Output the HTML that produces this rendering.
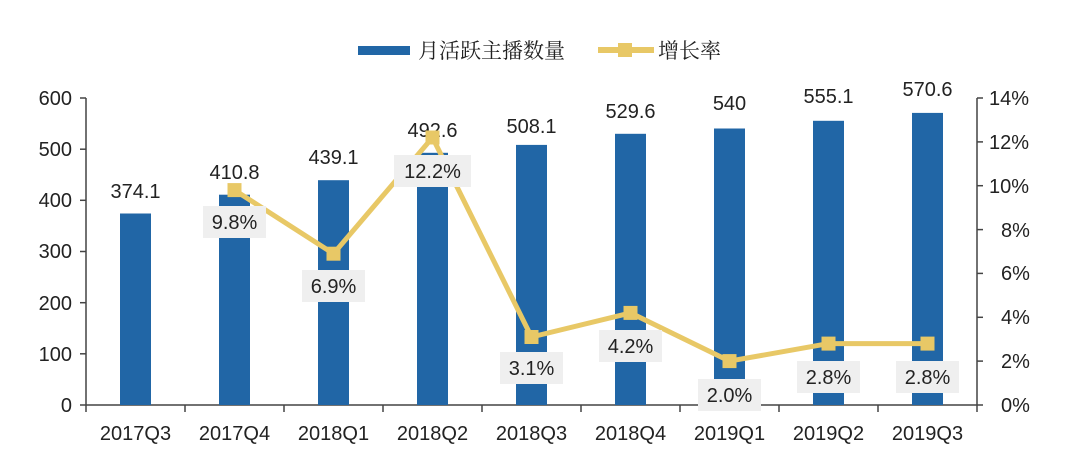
<!DOCTYPE html>
<html><head><meta charset="utf-8"><style>
body{margin:0;background:#fff;}
svg{display:block;font-family:"Liberation Sans","Noto Sans CJK SC",sans-serif;}
</style></head><body>
<svg width="1080" height="461" viewBox="0 0 1080 461">
<rect x="358" y="46" width="52" height="9" fill="#2166a6"/>
<text x="418" y="58" font-size="21" font-family="'Noto Serif CJK SC','Noto Sans CJK SC',serif" fill="#222">月活跃主播数量</text>
<line x1="598" y1="50" x2="654" y2="50" stroke="#e8c866" stroke-width="6"/>
<rect x="618" y="43" width="14" height="14" fill="#e8c866"/>
<text x="658" y="58" font-size="21" font-family="'Noto Serif CJK SC','Noto Sans CJK SC',serif" fill="#222">增长率</text>
<g stroke="#444" stroke-width="1.5" fill="none">
<line x1="86" y1="98" x2="86" y2="405"/>
<line x1="977" y1="98" x2="977" y2="405"/>
<line x1="86" y1="405" x2="977" y2="405"/>
<line x1="80" y1="98" x2="86" y2="98"/><line x1="80" y1="149.2" x2="86" y2="149.2"/><line x1="80" y1="200.3" x2="86" y2="200.3"/><line x1="80" y1="251.5" x2="86" y2="251.5"/><line x1="80" y1="302.7" x2="86" y2="302.7"/><line x1="80" y1="353.8" x2="86" y2="353.8"/><line x1="80" y1="405" x2="86" y2="405"/>
<line x1="977" y1="98" x2="983" y2="98"/><line x1="977" y1="141.9" x2="983" y2="141.9"/><line x1="977" y1="185.7" x2="983" y2="185.7"/><line x1="977" y1="229.6" x2="983" y2="229.6"/><line x1="977" y1="273.4" x2="983" y2="273.4"/><line x1="977" y1="317.3" x2="983" y2="317.3"/><line x1="977" y1="361.1" x2="983" y2="361.1"/><line x1="977" y1="405" x2="983" y2="405"/>
<line x1="86" y1="405" x2="86" y2="412"/><line x1="185" y1="405" x2="185" y2="412"/><line x1="284" y1="405" x2="284" y2="412"/><line x1="383" y1="405" x2="383" y2="412"/><line x1="482" y1="405" x2="482" y2="412"/><line x1="581" y1="405" x2="581" y2="412"/><line x1="680" y1="405" x2="680" y2="412"/><line x1="779" y1="405" x2="779" y2="412"/><line x1="878" y1="405" x2="878" y2="412"/><line x1="977" y1="405" x2="977" y2="412"/>
</g>
<g font-size="20" fill="#222" text-anchor="end">
<text x="72" y="105">600</text><text x="72" y="156">500</text><text x="72" y="207">400</text><text x="72" y="258">300</text><text x="72" y="310">200</text><text x="72" y="361">100</text><text x="72" y="412">0</text>
</g>
<g font-size="20" fill="#222" text-anchor="start">
<text x="989" y="105">14%</text><text x="989" y="149">12%</text><text x="989" y="193">10%</text><text x="1001" y="237">8%</text><text x="1001" y="280">6%</text><text x="1001" y="324">4%</text><text x="1001" y="368">2%</text><text x="1001" y="412">0%</text>
</g>
<g font-size="20" fill="#222" text-anchor="middle">
<text x="135.5" y="440">2017Q3</text><text x="234.5" y="440">2017Q4</text><text x="333.5" y="440">2018Q1</text><text x="432.5" y="440">2018Q2</text><text x="531.5" y="440">2018Q3</text><text x="630.5" y="440">2018Q4</text><text x="729.5" y="440">2019Q1</text><text x="828.5" y="440">2019Q2</text><text x="927.5" y="440">2019Q3</text>
</g>
<g fill="#2166a6">
<rect x="120" y="213.5" width="31" height="191.5"/>
<rect x="219" y="194.7" width="31" height="210.3"/>
<rect x="318" y="180.2" width="31" height="224.8"/>
<rect x="417" y="152.8" width="31" height="252.2"/>
<rect x="516" y="144.9" width="31" height="260.1"/>
<rect x="615" y="133.8" width="31" height="271.2"/>
<rect x="714" y="128.5" width="31" height="276.5"/>
<rect x="813" y="120.8" width="31" height="284.2"/>
<rect x="912" y="112.9" width="31" height="292.1"/>
</g>
<g font-size="20" fill="#222" text-anchor="middle">
<text x="135.5" y="198">374.1</text><text x="234.5" y="179">410.8</text><text x="333.5" y="164">439.1</text><text x="432.5" y="137">492.6</text><text x="531.5" y="133">508.1</text><text x="630.5" y="118">529.6</text><text x="729.5" y="110">540</text><text x="828.5" y="103">555.1</text><text x="927.5" y="96">570.6</text>
</g>
<polyline fill="none" stroke="#e8c866" stroke-width="5" stroke-linejoin="round" points="234.5,190.1 333.5,253.7 432.5,137.5 531.5,337.0 630.5,312.9 729.5,361.1 828.5,343.6 927.5,343.6"/>
<g fill="#e8c866">
<rect x="227.5" y="183.1" width="14" height="14"/><rect x="326.5" y="246.7" width="14" height="14"/><rect x="425.5" y="130.5" width="14" height="14"/><rect x="524.5" y="330" width="14" height="14"/><rect x="623.5" y="305.9" width="14" height="14"/><rect x="722.5" y="354.1" width="14" height="14"/><rect x="821.5" y="336.6" width="14" height="14"/><rect x="920.5" y="336.6" width="14" height="14"/>
</g>
<g fill="#efefef">
<rect x="203" y="206" width="63" height="32"/><rect x="302" y="270" width="63" height="32"/><rect x="394" y="155" width="77" height="32"/><rect x="500" y="352" width="63" height="32"/><rect x="599" y="330" width="63" height="32"/><rect x="698" y="379" width="63" height="32"/><rect x="797" y="361" width="63" height="32"/><rect x="896" y="361" width="63" height="32"/>
</g>
<g font-size="20" fill="#222" text-anchor="middle">
<text x="234.5" y="229">9.8%</text><text x="333.5" y="293">6.9%</text><text x="432.5" y="178">12.2%</text><text x="531.5" y="375">3.1%</text><text x="630.5" y="353">4.2%</text><text x="729.5" y="402">2.0%</text><text x="828.5" y="384">2.8%</text><text x="927.5" y="384">2.8%</text>
</g>
</svg>
</body></html>
